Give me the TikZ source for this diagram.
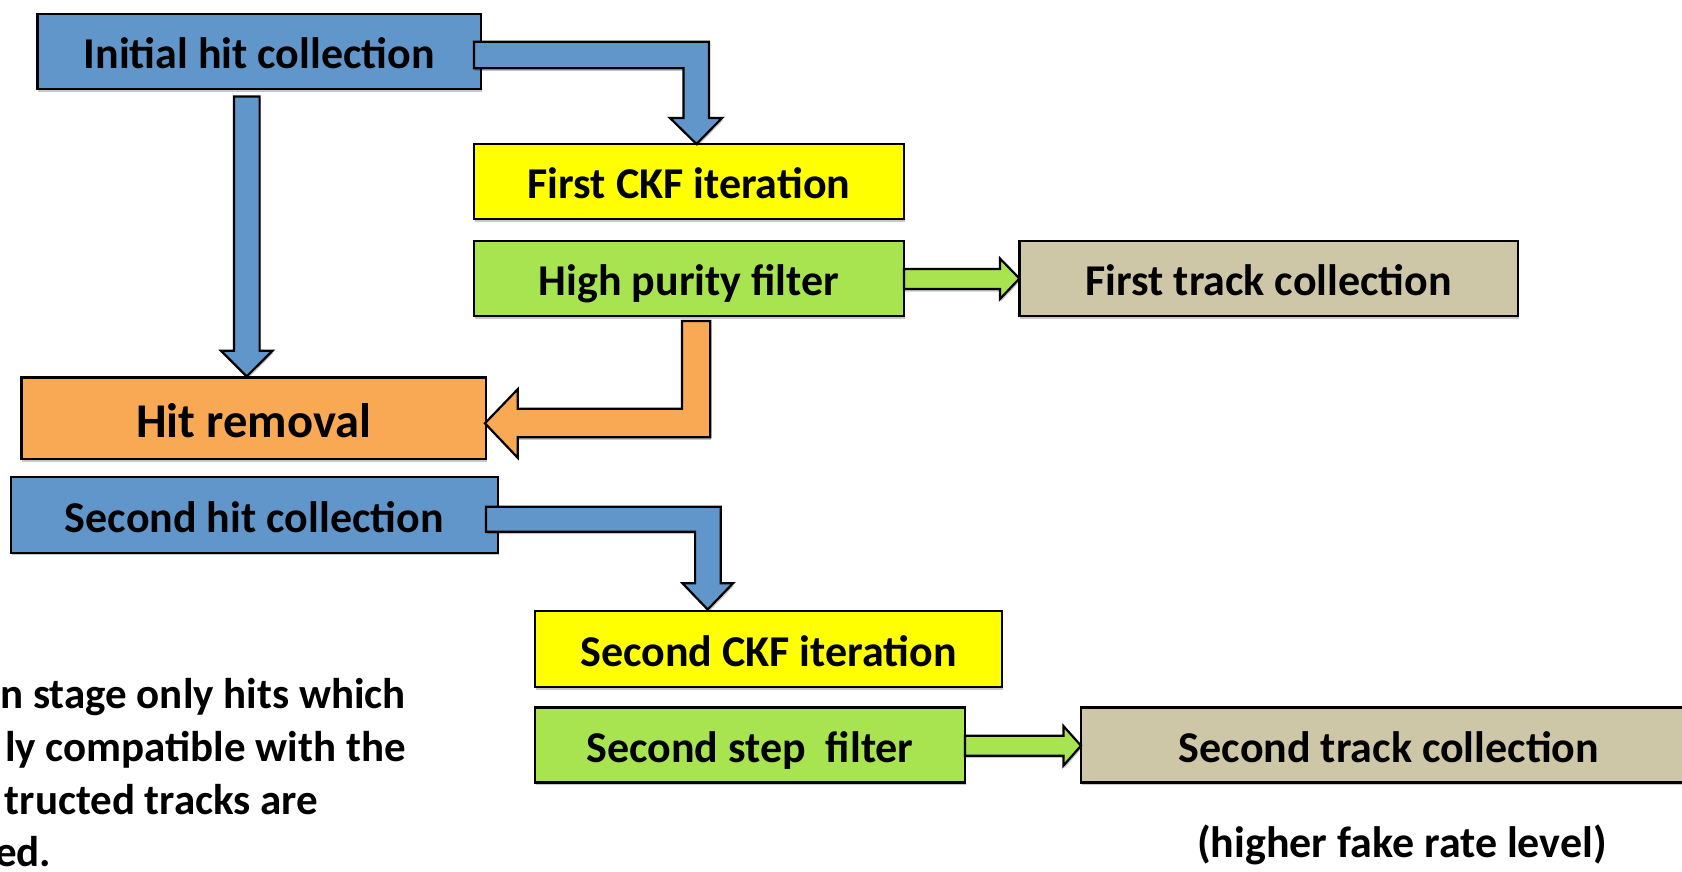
\documentclass[tikz,border=0pt]{standalone}
\usepackage{fontspec}
\setmainfont{Carlito}
\usetikzlibrary{calc,shadows}

\definecolor{hitblue}{RGB}{97,150,203}
\definecolor{ckfyellow}{RGB}{255,255,0}
\definecolor{filtgreen}{RGB}{168,228,80}
\definecolor{tracktan}{RGB}{206,199,167}
\definecolor{removeorange}{RGB}{249,168,84}

\tikzset{
  softshadow/.style={drop shadow={shadow xshift=1pt, shadow yshift=-2.5pt, opacity=0.22, fill=black}},
  stagebox/.style={draw=black, line width=2.2pt, inner sep=0pt, outer sep=0pt,
    text height=34.5pt, text depth=0pt,
    font=\fontsize{44}{52}\selectfont\bfseries, softshadow},
  blockarrow/.style={draw=black, line width=2.2pt, line join=miter, softshadow},
  note/.style={font=\fontsize{43}{52}\selectfont\bfseries, inner sep=0pt},
}

\begin{document}
\begin{tikzpicture}[x=1pt, y=-1pt]
\useasboundingbox (0,0) rectangle (1682,872);
\clip (0,0) rectangle (1682,872);

% stages
\node[stagebox, fill=hitblue, minimum width=443.5pt, minimum height=75.3pt] (init) at (259.2,51.6) {Initial hit collection};
\node[stagebox, fill=ckfyellow, minimum width=430pt, minimum height=75pt] (ckf1) at (689,181.5) {First CKF iteration};
\node[stagebox, fill=filtgreen, minimum width=430pt, minimum height=75pt] (hp) at (689,278.5) {High purity filter};
\node[stagebox, fill=tracktan, minimum width=498.5pt, minimum height=75pt] (trk1) at (1268.7,278.5) {First track collection};
\node[stagebox, fill=removeorange, minimum width=464.5pt, minimum height=81.7pt, text height=38pt,
      font=\fontsize{48.5}{58}\selectfont\bfseries] (hitrem) at (253.7,418.3) {Hit removal};
\node[stagebox, fill=hitblue, minimum width=487pt, minimum height=75.7pt] (hit2) at (254.2,514.9) {Second hit collection};
\node[stagebox, fill=ckfyellow, minimum width=467pt, minimum height=76pt] (ckf2) at (768.5,649) {Second CKF iteration};
\node[stagebox, fill=filtgreen, minimum width=430pt, minimum height=75pt] (filt2) at (750,745) {Second step\ \ filter};
\node[stagebox, fill=tracktan, minimum width=616pt, minimum height=75pt] (trk2) at (1389,745) {Second track collection};

% initial hits -> first CKF iteration
\draw[blockarrow, fill=hitblue]
  ($(init.east)+(-7,-9.9)$) -- ($(init.east -| ckf1.north)+(20,-9.9)$)
  -- ($(ckf1.north)+(20,-26)$) -- ($(ckf1.north)+(33,-26)$)
  -- ($(ckf1.north)+(7.5,0)$)
  -- ($(ckf1.north)+(-19,-26)$) -- ($(ckf1.north)+(-5.5,-26)$)
  -- ($(init.east -| ckf1.north)+(-5.5,16.7)$) -- ($(init.east)+(-7,16.7)$) -- cycle;

% initial hits -> hit removal
\draw[blockarrow, fill=hitblue]
  ($(init.south -| hitrem.north)+(-19.7,7.3)$) -- ($(init.south -| hitrem.north)+(5.9,7.3)$)
  -- ($(hitrem.north)+(5.9,-26.7)$) -- ($(hitrem.north)+(18.8,-26.7)$)
  -- ($(hitrem.north)+(-7,-1)$)
  -- ($(hitrem.north)+(-32.7,-26.7)$) -- ($(hitrem.north)+(-19.7,-26.7)$) -- cycle;

% high purity filter -> first track collection
\draw[blockarrow, fill=filtgreen]
  ($(hp.east)+(0,-9.5)$) -- ($(trk1.west)+(-19.5,-9.5)$) -- ($(trk1.west)+(-19.5,-20)$)
  -- (trk1.west)
  -- ($(trk1.west)+(-19.5,20.5)$) -- ($(trk1.west)+(-19.5,10.5)$) -- ($(hp.east)+(0,10.5)$) -- cycle;

% high purity filter -> hit removal
\draw[blockarrow, fill=removeorange]
  ($(hp.south)+(-7,5)$) -- ($(hp.south)+(21.2,5)$)
  -- ($(hp.south |- hitrem.east)+(21.2,19)$) -- ($(hitrem.east)+(31.7,19)$)
  -- ($(hitrem.east)+(31.7,39.4)$) -- ($(hitrem.east)+(-1,5)$) -- ($(hitrem.east)+(31.7,-29)$)
  -- ($(hitrem.east)+(31.7,-9.6)$) -- ($(hp.south |- hitrem.east)+(-7,-9.6)$) -- cycle;

% second hits -> second CKF iteration
\draw[blockarrow, fill=hitblue]
  ($(hit2.east)+(-11.8,-8.2)$) -- ($(hit2.east -| ckf2.north)+(-47.7,-8.2)$)
  -- ($(ckf2.north)+(-47.7,-27.7)$) -- ($(ckf2.north)+(-35.5,-27.7)$)
  -- ($(ckf2.north)+(-60.8,-1.5)$)
  -- ($(ckf2.north)+(-86,-27.7)$) -- ($(ckf2.north)+(-73.4,-27.7)$)
  -- ($(hit2.east -| ckf2.north)+(-73.4,16.8)$) -- ($(hit2.east)+(-11.8,16.8)$) -- cycle;

% second step filter -> second track collection
\draw[blockarrow, fill=filtgreen]
  ($(filt2.east)+(0,-9.3)$) -- ($(trk2.west)+(-17.6,-9.3)$) -- ($(trk2.west)+(-17.6,-19)$)
  -- ($(trk2.west)+(0,0.7)$)
  -- ($(trk2.west)+(-17.6,20.7)$) -- ($(trk2.west)+(-17.6,10.7)$) -- ($(filt2.east)+(0,10.7)$) -- cycle;

% explanatory text
\node[note, anchor=base east] (n1) at (406,708.5) {n stage only hits which};
\node[note, anchor=base east] (n2) at (406,761.5) {ly compatible with the};
\node[note, anchor=base east] (n3) at (318.5,814.3) {tructed tracks are};
\node[note, anchor=base east] (n4) at (51.5,866.7) {ed.};
\node[note, font=\fontsize{44}{52}\selectfont\bfseries, anchor=base] (fake) at (1402,857) {(higher fake rate level)};
\end{tikzpicture}
\end{document}
